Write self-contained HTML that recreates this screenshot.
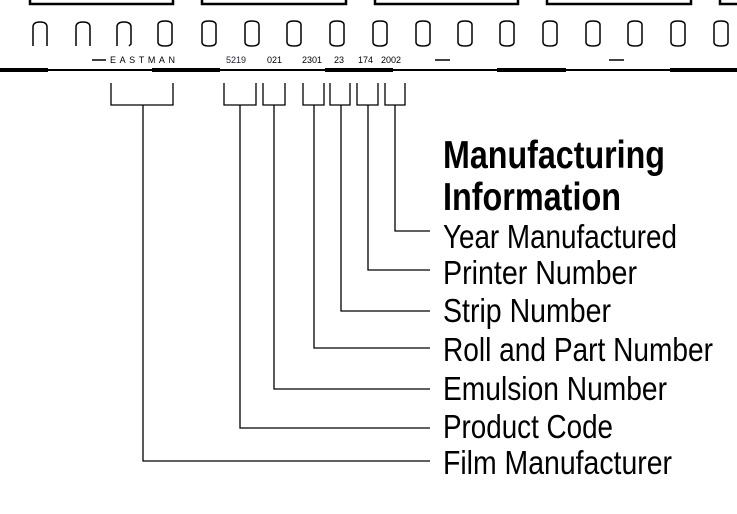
<!DOCTYPE html>
<html><head><meta charset="utf-8"><style>
html,body{margin:0;padding:0;background:#fff;}
svg{display:block;}
</style></head><body>
<svg width="737" height="514" viewBox="0 0 737 514" xmlns="http://www.w3.org/2000/svg">
<g fill="none" stroke="#000" stroke-width="2.5">
<path d="M30 -5V4H173V-5"/>
<path d="M202 -5V4H346V-5"/>
<path d="M375 -5V4H518V-5"/>
<path d="M547 -5V4H691V-5"/>
<path d="M720 -5V4H745"/>
</g>
<g fill="none" stroke="#000" stroke-width="1.5">
<path d="M33 46V27Q33 22 40 22Q47 22 47 27V46"/>
<path d="M76 46V27Q76 22 83 22Q90 22 90 27V46"/>
<path d="M117 46V27Q117 22 124 22Q131 22 131 27V44L129 46"/>
<path d="M158 25Q158 21 165 21Q172 21 172 25V42Q172 46 165 46Q158 46 158 42Z"/>
<g id="h"><path d="M202 25Q202 21 209 21Q216 21 216 25V42Q216 46 209 46Q202 46 202 42Z"/></g>
<use href="#h" x="43"/><use href="#h" x="85"/><use href="#h" x="128"/><use href="#h" x="171"/>
<use href="#h" x="214"/><use href="#h" x="256"/><use href="#h" x="298"/><use href="#h" x="341"/>
<use href="#h" x="384"/><use href="#h" x="426"/><use href="#h" x="469"/><use href="#h" x="512"/>
</g>
<g stroke="#000">
<line x1="0" y1="70" x2="737" y2="70" stroke-width="2"/>
<line x1="0" y1="70" x2="48" y2="70" stroke-width="4"/>
<line x1="152" y1="70" x2="220" y2="70" stroke-width="4"/>
<line x1="325" y1="70" x2="393" y2="70" stroke-width="4"/>
<line x1="497" y1="70" x2="566" y2="70" stroke-width="4"/>
<line x1="670" y1="70" x2="737" y2="70" stroke-width="4"/>
<line x1="92" y1="60" x2="106" y2="60" stroke-width="1.5"/>
<line x1="435" y1="60" x2="450" y2="60" stroke-width="1.5"/>
<line x1="609" y1="60" x2="624" y2="60" stroke-width="1.5"/>
</g>
<g font-family="Liberation Sans, sans-serif" font-size="9" fill="#000">
<text x="110" y="63" textLength="65" lengthAdjust="spacing">EASTMAN</text>
<text x="226" y="63" fill="#223">5219</text>
<text x="267" y="63">021</text>
<text x="302" y="63">2301</text>
<text x="334" y="63">23</text>
<text x="358" y="63">174</text>
<text x="381" y="63">2002</text>
</g>
<g fill="none" stroke="#000" stroke-width="1.3">
<path d="M111 83V105H173V83M143 105V461H430"/>
<path d="M224 83V105H256V83M240 105V428H430"/>
<path d="M263 83V105H285V83M274 105V389H430"/>
<path d="M303 83V105H324V83M314 105V348H430"/>
<path d="M330 83V105H350V83M341 105V311H430"/>
<path d="M357 83V105H378V83M368 105V270H430"/>
<path d="M385 83V105H405V83M395 105V231H430"/>
</g>
<g font-family="Liberation Sans, sans-serif" fill="#000">
<text x="443" y="168" font-size="39" font-weight="bold" textLength="222" lengthAdjust="spacingAndGlyphs">Manufacturing</text>
<text x="443" y="210" font-size="39" font-weight="bold" textLength="178" lengthAdjust="spacingAndGlyphs">Information</text>
<g font-size="33">
<text x="443" y="248" textLength="234" lengthAdjust="spacingAndGlyphs">Year Manufactured</text>
<text x="443" y="284" textLength="194" lengthAdjust="spacingAndGlyphs">Printer Number</text>
<text x="443" y="322" textLength="168" lengthAdjust="spacingAndGlyphs">Strip Number</text>
<text x="443" y="361" textLength="270" lengthAdjust="spacingAndGlyphs">Roll and Part Number</text>
<text x="443" y="400" textLength="224" lengthAdjust="spacingAndGlyphs">Emulsion Number</text>
<text x="443" y="438" textLength="170" lengthAdjust="spacingAndGlyphs">Product Code</text>
<text x="443" y="474" textLength="229" lengthAdjust="spacingAndGlyphs">Film Manufacturer</text>
</g>
</g>
</svg>
</body></html>
